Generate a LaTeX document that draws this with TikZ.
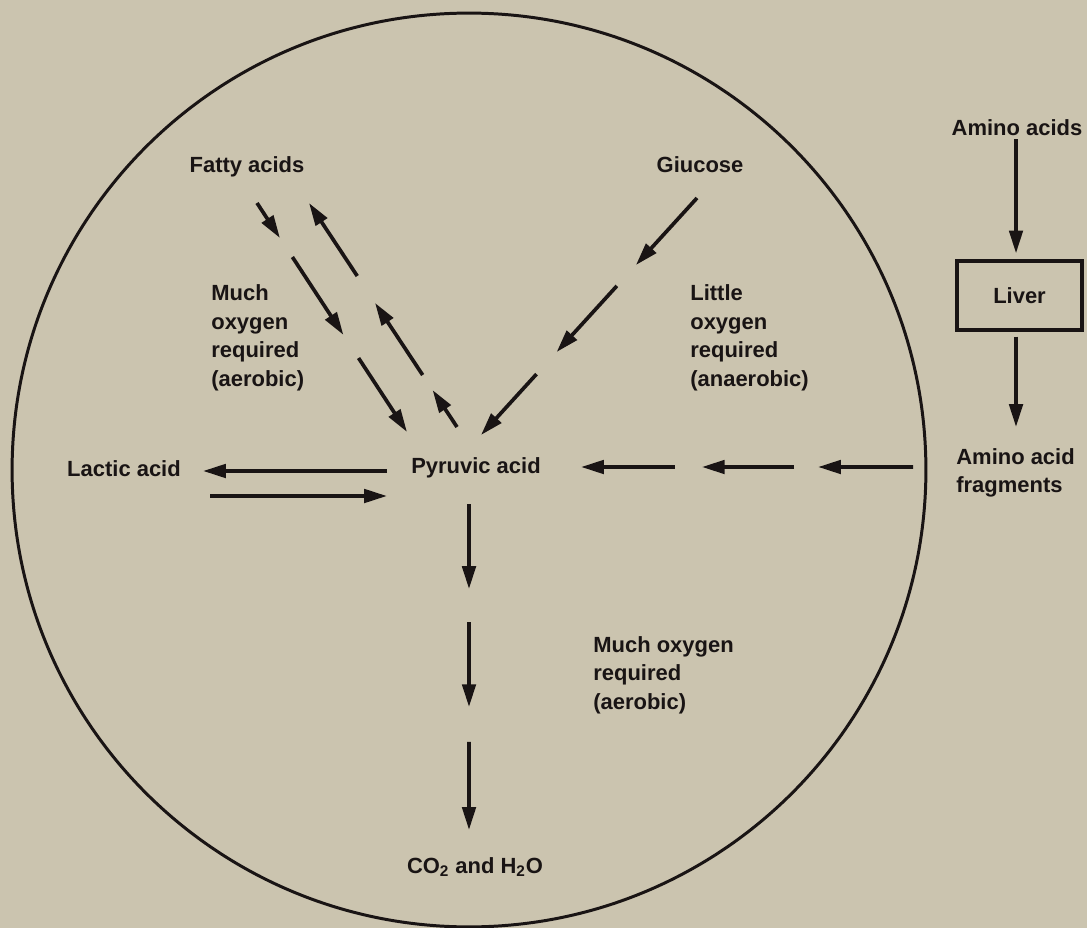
\documentclass[tikz,border=0pt]{standalone}
\usepackage{fontspec}
\setmainfont{Liberation Sans}
\usetikzlibrary{arrows.meta, positioning, calc}
\definecolor{paper}{RGB}{203,196,175}
\definecolor{ink}{RGB}{25,20,20}
\tikzset{
  lbl/.style={font=\bfseries\fontsize{12.5}{16.3}\selectfont, inner sep=0pt, text=ink},
  note/.style={lbl, align=left, anchor=west},
  arr/.style={-{Triangle[length=13pt, width=7.6pt]}, line width=2.1pt, draw=ink},
  organ/.style={lbl, draw=ink, line width=1.8pt, minimum width=2.5cm, minimum height=1.38cm}
}

\begin{document}
\begin{tikzpicture}[x=0.02cm, y=-0.02cm]
  \fill[paper] (0,0) rectangle (1087,928);
  \useasboundingbox (0,0) rectangle (1087,928);

  %% -- the cell -----------------------------------------------
  \node[circle, draw=ink, line width=1.7pt, minimum size=18.28cm, inner sep=0pt] (cell) at (469,470) {};

  %% -- substances ---------------------------------------------
  \node[lbl] (fatty)  at (247,167) {Fatty acids};
  \node[lbl] (gluc)   at (700,165) {Giucose};
  \node[lbl] (lactic) at (124,469) {Lactic acid};
  \node[lbl] (pyr)    at (476,468) {Pyruvic acid};
  \node[lbl] (co2)    at (475,867) {CO\textsubscript{2} and H\textsubscript{2}O};

  \node[note] (muchL)  at (211,338) {Much\\oxygen\\required\\(aerobic)};
  \node[note] (little) at (690,338) {Little\\oxygen\\required\\(anaerobic)};
  \node[note] (muchR)  at (593,675) {Much oxygen\\required\\(aerobic)};

  %% -- liver branch (outside the cell) -------------------------
  \node[lbl]   (amino) at (1017,128) {Amino acids};
  \node[organ] (liver) at (1019.5,295.5) {Liver};
  \node[note]  (frag)  at (956,473) {Amino acid\\fragments};

  \coordinate (axis) at (1016,0);
  \draw[arr] (amino.south -| axis) ++(0,3) -- ([yshift=0.12cm]liver.north -| axis);
  \draw[arr] (liver.south -| axis) ++(0,5) -- ([yshift=0.42cm]frag.north -| axis);

  %% -- broken connectors --------------------------------------
  \coordinate (fd0) at (257,203);  \coordinate (fd1) at (407,432);
  \coordinate (fu0) at (457,427);  \coordinate (fu1) at (309,203);
  \coordinate (gl0) at (697,198);  \coordinate (gl1) at (481,435);
  \coordinate (am0) at (913,467);  \coordinate (am1) at (581,467);
  \coordinate (dn0) at (469,504);  \coordinate (dn1) at (469,830);

  \foreach \a/\b in {0/0.153, 0.236/0.576, 0.677/1}
    \draw[arr] ($(fd0)!\a!(fd1)$) -- ($(fd0)!\b!(fd1)$);
  \foreach \a/\b in {0/0.165, 0.232/0.554, 0.674/1}
    \draw[arr] ($(fu0)!\a!(fu1)$) -- ($(fu0)!\b!(fu1)$);
  \foreach \a/\b in {0/0.283, 0.371/0.650, 0.743/1}
    \draw[arr] ($(gl0)!\a!(gl1)$) -- ($(gl0)!\b!(gl1)$);
  \foreach \a/\b in {0/0.286, 0.358/0.636, 0.717/1}
    \draw[arr] ($(am0)!\a!(am1)$) -- ($(am0)!\b!(am1)$);
  \foreach \a/\b in {0/0.261, 0.362/0.623, 0.730/1}
    \draw[arr] ($(dn0)!\a!(dn1)$) -- ($(dn0)!\b!(dn1)$);

  %% -- lactic acid <-> pyruvic acid ---------------------------
  \coordinate (lt0) at (387,471);  \coordinate (lt1) at (203,471);
  \coordinate (rt0) at (210,496);  \coordinate (rt1) at (387,496);
  \draw[arr] (lt0) -- (lt1);
  \draw[arr] (rt0) -- (rt1);

\end{tikzpicture}
\end{document}
